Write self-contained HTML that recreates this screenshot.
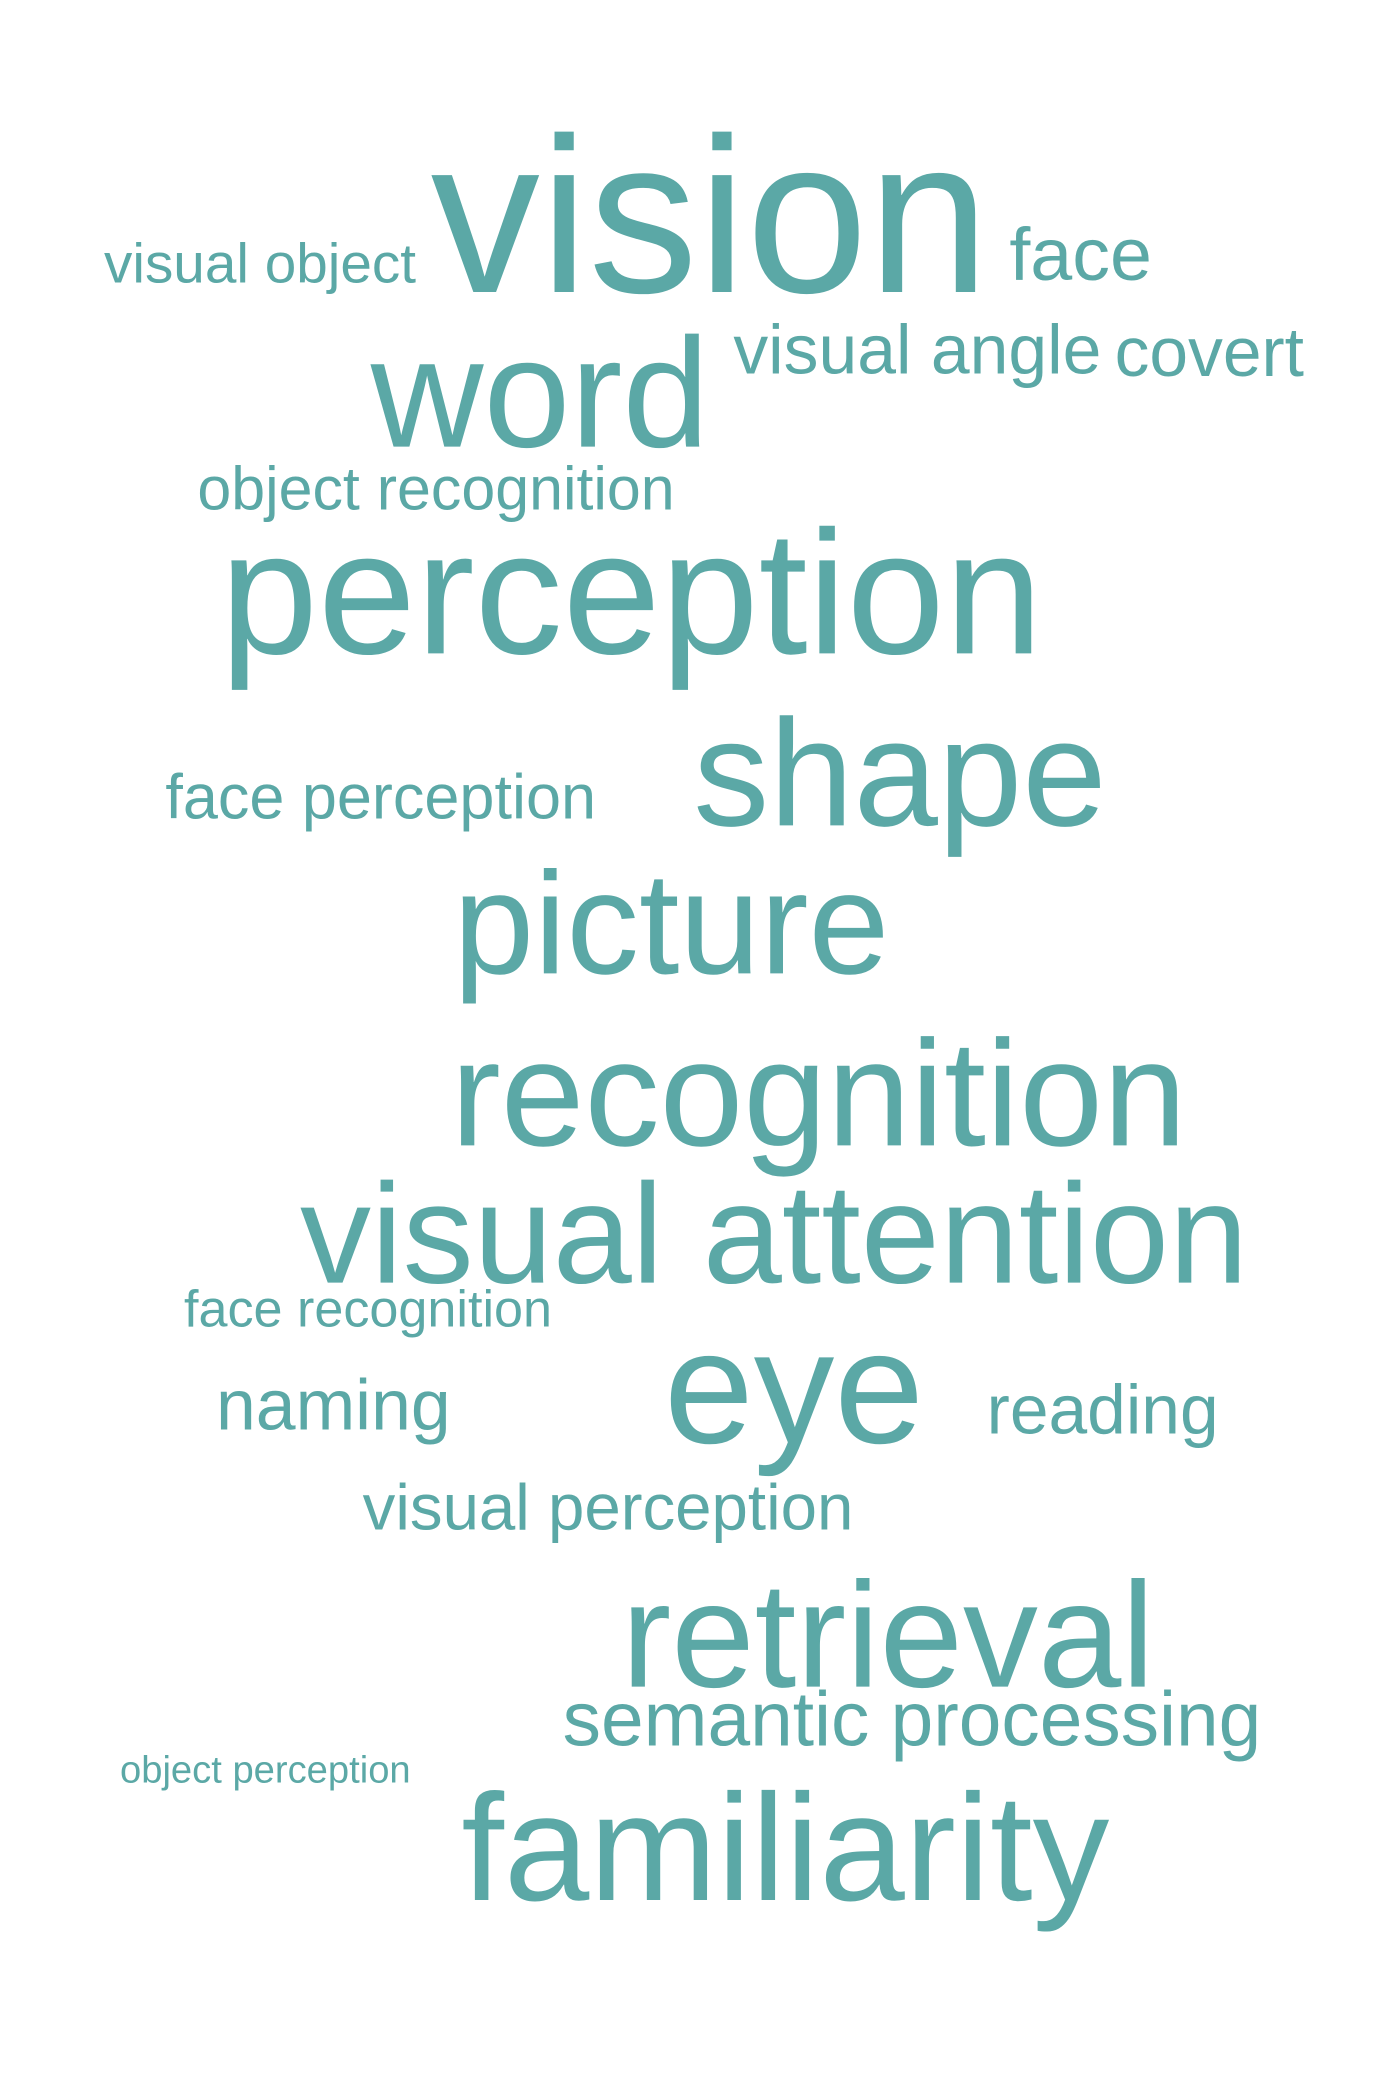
<!DOCTYPE html>
<html>
<head>
<meta charset="utf-8">
<style>
html,body{margin:0;padding:0;background:#fff;}
svg{display:block;}
text{font-family:"Liberation Sans",Arial,sans-serif;fill:#5ba8a6;}
</style>
</head>
<body>
<svg id="cloud" width="1400" height="2076" viewBox="0 0 1050 1557" xmlns="http://www.w3.org/2000/svg"></svg>
<script>
const words = ["vision","visual object","face","word","visual angle","covert","object recognition","perception","face perception","shape","picture","recognition","visual attention","face recognition","naming","eye","reading","visual perception","retrieval","semantic processing","object perception","familiarity"];
const sizes = [166,42,56,117,52,52,45.7,132,47,114,109,113,106.6,39,53.7,121,52,49,112.5,57.5,28.6,114];
const lefts = [323,78,757,278,550,836,148,165,124,520,340,338,225,138,162,498,740,272,466,422,90,346];
const baselines = [219,212,210,335,280,282,382,490,614,619,730,859,962,995,1072,1082,1075,1147,1265,1309,1337,1425];
const rights = [742,312,864,532,826,978,506,782,447,830,667,890,936,414,338,693,914,640,866,946,308,832];

const svg = document.getElementById('cloud');
const NS = 'http://www.w3.org/2000/svg';
for (let i = 0; i < words.length; i++) {
  const t = document.createElementNS(NS, 'text');
  t.setAttribute('x', lefts[i]);
  t.setAttribute('y', baselines[i]);
  t.setAttribute('font-size', sizes[i]);
  t.setAttribute('textLength', rights[i] - lefts[i]);
  t.setAttribute('lengthAdjust', 'spacingAndGlyphs');
  t.textContent = words[i];
  
  
  svg.appendChild(t);
}
</script>
</body>
</html>
